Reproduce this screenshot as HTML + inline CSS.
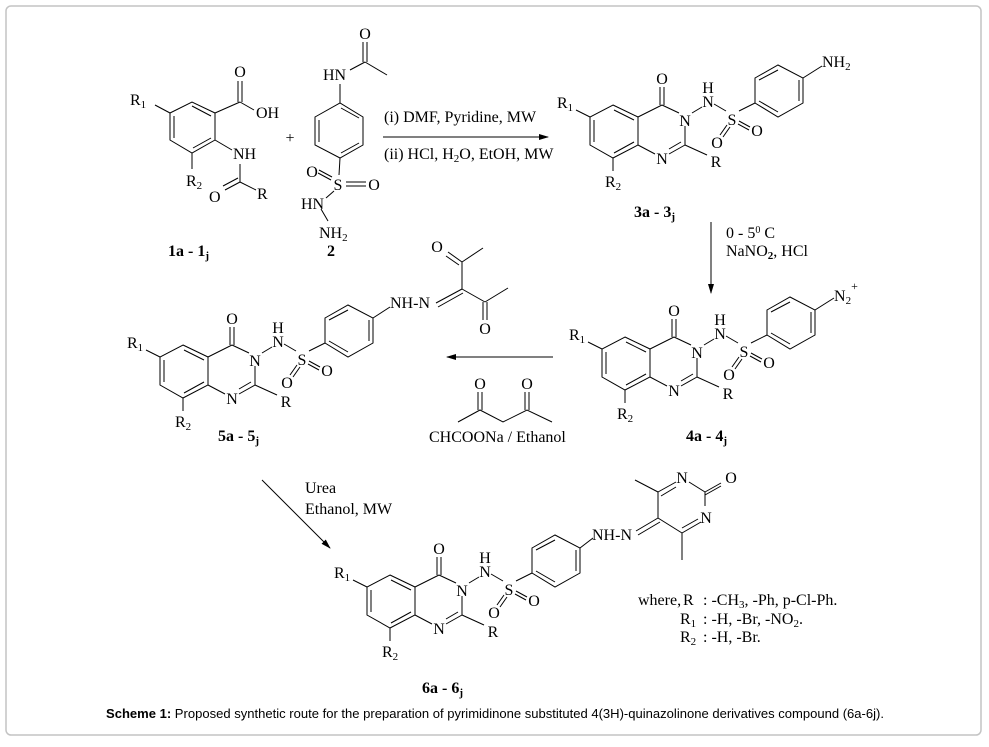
<!DOCTYPE html>
<html><head><meta charset="utf-8"><style>
html,body{margin:0;padding:0;background:#fff;}
svg{display:block;}
text{font-family:"Liberation Serif",serif;font-size:16px;fill:#000;}
.b{font-weight:bold;}
.cap{font-family:"Liberation Sans",sans-serif;font-size:12.5px;}
</style></head><body>
<svg width="989" height="747" viewBox="0 0 989 747" xmlns="http://www.w3.org/2000/svg">
<rect x="6" y="6" width="975" height="729" rx="5" fill="#fff" stroke="#c4c4c4" stroke-width="1.5"/>
<defs>
<marker id="ah" markerWidth="10" markerHeight="8" refX="9" refY="4" orient="auto" markerUnits="userSpaceOnUse">
<path d="M0,1 L10,4 L0,7 Z" fill="#000"/></marker>
<g id="qz" stroke="#000" stroke-width="1" fill="none">
<polygon points="613,105 638,117 638,145 613,158 590,145 590,117"/>
<line x1="614" y1="110" x2="634" y2="120"/>
<line x1="594" y1="120" x2="594" y2="142"/>
<line x1="614" y1="153" x2="634" y2="142"/>
<line x1="638" y1="117" x2="662" y2="105"/>
<line x1="662" y1="105" x2="679" y2="113"/>
<line x1="685" y1="126" x2="685" y2="145"/>
<line x1="685" y1="145" x2="669" y2="154"/>
<line x1="681" y1="142" x2="669" y2="149"/>
<line x1="655" y1="154" x2="638" y2="145"/>
<line x1="660" y1="105" x2="660" y2="87"/>
<line x1="664" y1="105" x2="664" y2="87"/>
<line x1="692" y1="113" x2="702" y2="107"/>
<line x1="714" y1="104" x2="726" y2="111"/>
<line x1="727" y1="125" x2="720" y2="135"/>
<line x1="730" y1="127" x2="723" y2="137"/>
<line x1="739" y1="121" x2="750" y2="127"/>
<line x1="738" y1="124" x2="749" y2="130"/>
<line x1="739" y1="111" x2="755" y2="103"/>
<line x1="685" y1="145" x2="707" y2="155"/>
<line x1="590" y1="117" x2="576" y2="110"/>
<line x1="613" y1="158" x2="613" y2="171"/>
<polygon points="755,78 778,65 803,78 803,103 778,117 755,103"/>
<line x1="759" y1="80" x2="778" y2="70"/>
<line x1="799" y1="80" x2="799" y2="101"/>
<line x1="759" y1="101" x2="778" y2="112"/>
</g>
<g id="qzt">
<text x="662" y="84" text-anchor="middle">O</text>
<text x="685" y="126" text-anchor="middle">N</text>
<text x="662" y="164" text-anchor="middle">N</text>
<text x="708" y="93" text-anchor="middle">H</text>
<text x="708" y="107" text-anchor="middle">N</text>
<text x="732" y="125" text-anchor="middle">S</text>
<text x="717" y="148" text-anchor="middle">O</text>
<text x="757" y="136" text-anchor="middle">O</text>
<text x="716" y="167" text-anchor="middle">R</text>
<text x="557" y="108">R<tspan font-size="11" dy="3">1</tspan></text>
<text x="605" y="187">R<tspan font-size="11" dy="3">2</tspan></text>
</g>
</defs>

<!-- compound 1 -->
<g stroke="#000" stroke-width="1" fill="none">
<polygon points="170,113 192,102 215,113 215,140 192,153 170,140"/>
<line x1="192" y1="106" x2="211" y2="116"/>
<line x1="174" y1="116" x2="174" y2="138"/>
<line x1="193" y1="148" x2="211" y2="138"/>
<line x1="170" y1="113" x2="155" y2="105"/>
<line x1="215" y1="113" x2="240" y2="102"/>
<line x1="238" y1="102" x2="238" y2="81"/>
<line x1="242" y1="102" x2="242" y2="81"/>
<line x1="240" y1="102" x2="254" y2="110"/>
<line x1="215" y1="140" x2="232" y2="150"/>
<line x1="192" y1="153" x2="192" y2="169"/>
<line x1="240" y1="164" x2="240" y2="182"/>
<line x1="240" y1="182" x2="225" y2="190"/>
<line x1="238" y1="178" x2="223" y2="186"/>
<line x1="240" y1="182" x2="256" y2="190"/>
</g>
<text x="240" y="77" text-anchor="middle">O</text>
<text x="256" y="118">OH</text>
<text x="130" y="105">R<tspan font-size="11" dy="3">1</tspan></text>
<text x="233" y="159">NH</text>
<text x="186" y="186">R<tspan font-size="11" dy="3">2</tspan></text>
<text x="209" y="202">O</text>
<text x="257" y="199">R</text>
<text x="290" y="143" font-size="22" text-anchor="middle">+</text>
<text x="168" y="256" class="b">1a - 1<tspan font-size="11" dy="3">j</tspan></text>
<!-- compound 2 -->
<g stroke="#000" stroke-width="1" fill="none">
<polygon points="315,117 340,103 363,117 363,145 340,158 315,145"/>
<line x1="319" y1="120" x2="319" y2="142"/>
<line x1="341" y1="108" x2="359" y2="118"/>
<line x1="341" y1="153" x2="359" y2="143"/>
<line x1="340" y1="103" x2="340" y2="84"/>
<line x1="350" y1="70" x2="365" y2="62"/>
<line x1="363" y1="62" x2="363" y2="42"/>
<line x1="367" y1="62" x2="367" y2="42"/>
<line x1="365" y1="62" x2="387" y2="75"/>
<line x1="340" y1="158" x2="339" y2="175"/>
<line x1="319" y1="170" x2="332" y2="177"/>
<line x1="318" y1="173" x2="331" y2="180"/>
<line x1="346" y1="182" x2="366" y2="182"/>
<line x1="346" y1="186" x2="366" y2="186"/>
<line x1="334" y1="191" x2="326" y2="198"/>
<line x1="321" y1="209" x2="328" y2="221"/>
</g>
<text x="365" y="39" text-anchor="middle">O</text>
<text x="323" y="80">HN</text>
<text x="338" y="190" text-anchor="middle">S</text>
<text x="312" y="177" text-anchor="middle">O</text>
<text x="374" y="190" text-anchor="middle">O</text>
<text x="301" y="209">HN</text>
<text x="319" y="238">NH<tspan font-size="11" dy="3">2</tspan></text>
<text x="327" y="256" class="b">2</text>

<!-- arrow 1 -->
<line x1="383" y1="137" x2="548" y2="137" stroke="#000" stroke-width="1" marker-end="url(#ah)"/>
<text x="384" y="122">(i) DMF, Pyridine, MW</text>
<text x="384" y="159">(ii) HCl, H<tspan font-size="11" dy="3">2</tspan><tspan dy="-3">O, EtOH, MW</tspan></text>

<!-- compound 3 -->
<use href="#qz"/><use href="#qzt"/>
<line x1="803" y1="78" x2="822" y2="66" stroke="#000" stroke-width="1"/>
<text x="822" y="67">NH<tspan font-size="11" dy="3">2</tspan></text>
<text x="634" y="217" class="b">3a - 3<tspan font-size="11" dy="3">j</tspan></text>

<!-- arrow 2 -->
<line x1="711" y1="222" x2="711" y2="293" stroke="#000" stroke-width="1" marker-end="url(#ah)"/>
<text x="726" y="238">0 - 5<tspan font-size="10" dy="-5">0</tspan><tspan dy="5"> C</tspan></text>
<text x="726" y="256">NaNO<tspan font-size="11" dy="3" class="b">2</tspan><tspan dy="-3">, HCl</tspan></text>

<!-- compound 4 -->
<g transform="translate(12,232)"><use href="#qz"/></g>
<g transform="translate(12,232)"><use href="#qzt"/></g>
<line x1="815" y1="310" x2="834" y2="298" stroke="#000" stroke-width="1"/>
<text x="834" y="301">N<tspan font-size="11" dy="3">2</tspan><tspan font-size="12" dy="-14">+</tspan></text>
<text x="686" y="441" class="b">4a - 4<tspan font-size="11" dy="3">j</tspan></text>

<!-- arrow 3 -->
<line x1="553" y1="357" x2="447" y2="357" stroke="#000" stroke-width="1" marker-end="url(#ah)"/>
<g stroke="#000" stroke-width="1" fill="none">
<polyline points="458,422 480,410 503,422 527,410 552,422"/>
<line x1="478" y1="410" x2="478" y2="392"/>
<line x1="482" y1="410" x2="482" y2="392"/>
<line x1="525" y1="410" x2="525" y2="392"/>
<line x1="529" y1="410" x2="529" y2="392"/>
</g>
<text x="480" y="389" text-anchor="middle">O</text>
<text x="527" y="389" text-anchor="middle">O</text>
<text x="429" y="442">CHCOONa / Ethanol</text>

<!-- compound 5 -->
<g transform="translate(-430,240)"><use href="#qz"/></g>
<g transform="translate(-430,240)"><use href="#qzt"/></g>
<g stroke="#000" stroke-width="1" fill="none">
<line x1="373" y1="318" x2="390" y2="307"/>
<line x1="436" y1="303" x2="462" y2="289"/>
<line x1="438" y1="307" x2="463" y2="293"/>
<line x1="462" y1="289" x2="462" y2="262"/>
<line x1="462" y1="262" x2="448" y2="252"/>
<line x1="459" y1="265" x2="446" y2="256"/>
<line x1="462" y1="262" x2="483" y2="248"/>
<line x1="462" y1="289" x2="485" y2="302"/>
<line x1="483" y1="302" x2="483" y2="320"/>
<line x1="487" y1="302" x2="487" y2="320"/>
<line x1="485" y1="302" x2="508" y2="288"/>
</g>
<text x="390" y="308">NH-N</text>
<text x="437" y="252" text-anchor="middle">O</text>
<text x="485" y="334" text-anchor="middle">O</text>
<text x="218" y="441" class="b">5a - 5<tspan font-size="11" dy="3">j</tspan></text>

<!-- arrow 4 -->
<line x1="262" y1="480" x2="330" y2="548" stroke="#000" stroke-width="1" marker-end="url(#ah)"/>
<text x="305" y="493">Urea</text>
<text x="305" y="514">Ethanol, MW</text>

<!-- compound 6 -->
<g transform="translate(-223,470)"><use href="#qz"/></g>
<g transform="translate(-223,470)"><use href="#qzt"/></g>
<g stroke="#000" stroke-width="1" fill="none">
<line x1="580" y1="548" x2="593" y2="538"/>
<line x1="636" y1="531" x2="658" y2="518"/>
<line x1="638" y1="535" x2="660" y2="522"/>
<line x1="658" y1="518" x2="658" y2="492"/>
<line x1="658" y1="492" x2="676" y2="482"/>
<line x1="661" y1="496" x2="676" y2="487"/>
<line x1="689" y1="482" x2="705" y2="492"/>
<line x1="705" y1="492" x2="721" y2="483"/>
<line x1="705" y1="495" x2="721" y2="486"/>
<line x1="705" y1="492" x2="705" y2="506"/>
<line x1="701" y1="522" x2="682" y2="533"/>
<line x1="698" y1="519" x2="682" y2="528"/>
<line x1="682" y1="533" x2="658" y2="518"/>
<line x1="682" y1="533" x2="682" y2="560"/>
<line x1="658" y1="492" x2="635" y2="480"/>
</g>
<text x="592" y="540">NH-N</text>
<text x="682" y="483" text-anchor="middle">N</text>
<text x="731" y="483" text-anchor="middle">O</text>
<text x="706" y="523" text-anchor="middle">N</text>
<text x="422" y="693" class="b">6a - 6<tspan font-size="11" dy="3">j</tspan></text>

<text x="638" y="605">where,</text>
<text x="683" y="605">R</text>
<text x="703" y="605">: -CH<tspan font-size="11" dy="3">3</tspan><tspan dy="-3">, -Ph, p-Cl-Ph.</tspan></text>
<text x="680" y="624">R<tspan font-size="11" dy="3">1</tspan></text>
<text x="703" y="624">: -H, -Br, -NO<tspan font-size="11" dy="3">2</tspan><tspan dy="-3">.</tspan></text>
<text x="680" y="642">R<tspan font-size="11" dy="3">2</tspan></text>
<text x="703" y="642">: -H, -Br.</text>

<text x="106" y="718" class="cap" textLength="778" lengthAdjust="spacingAndGlyphs"><tspan font-weight="bold">Scheme 1:</tspan> Proposed synthetic route for the preparation of pyrimidinone substituted 4(3H)-quinazolinone derivatives compound (6a-6j).</text>
</svg>
</body></html>
